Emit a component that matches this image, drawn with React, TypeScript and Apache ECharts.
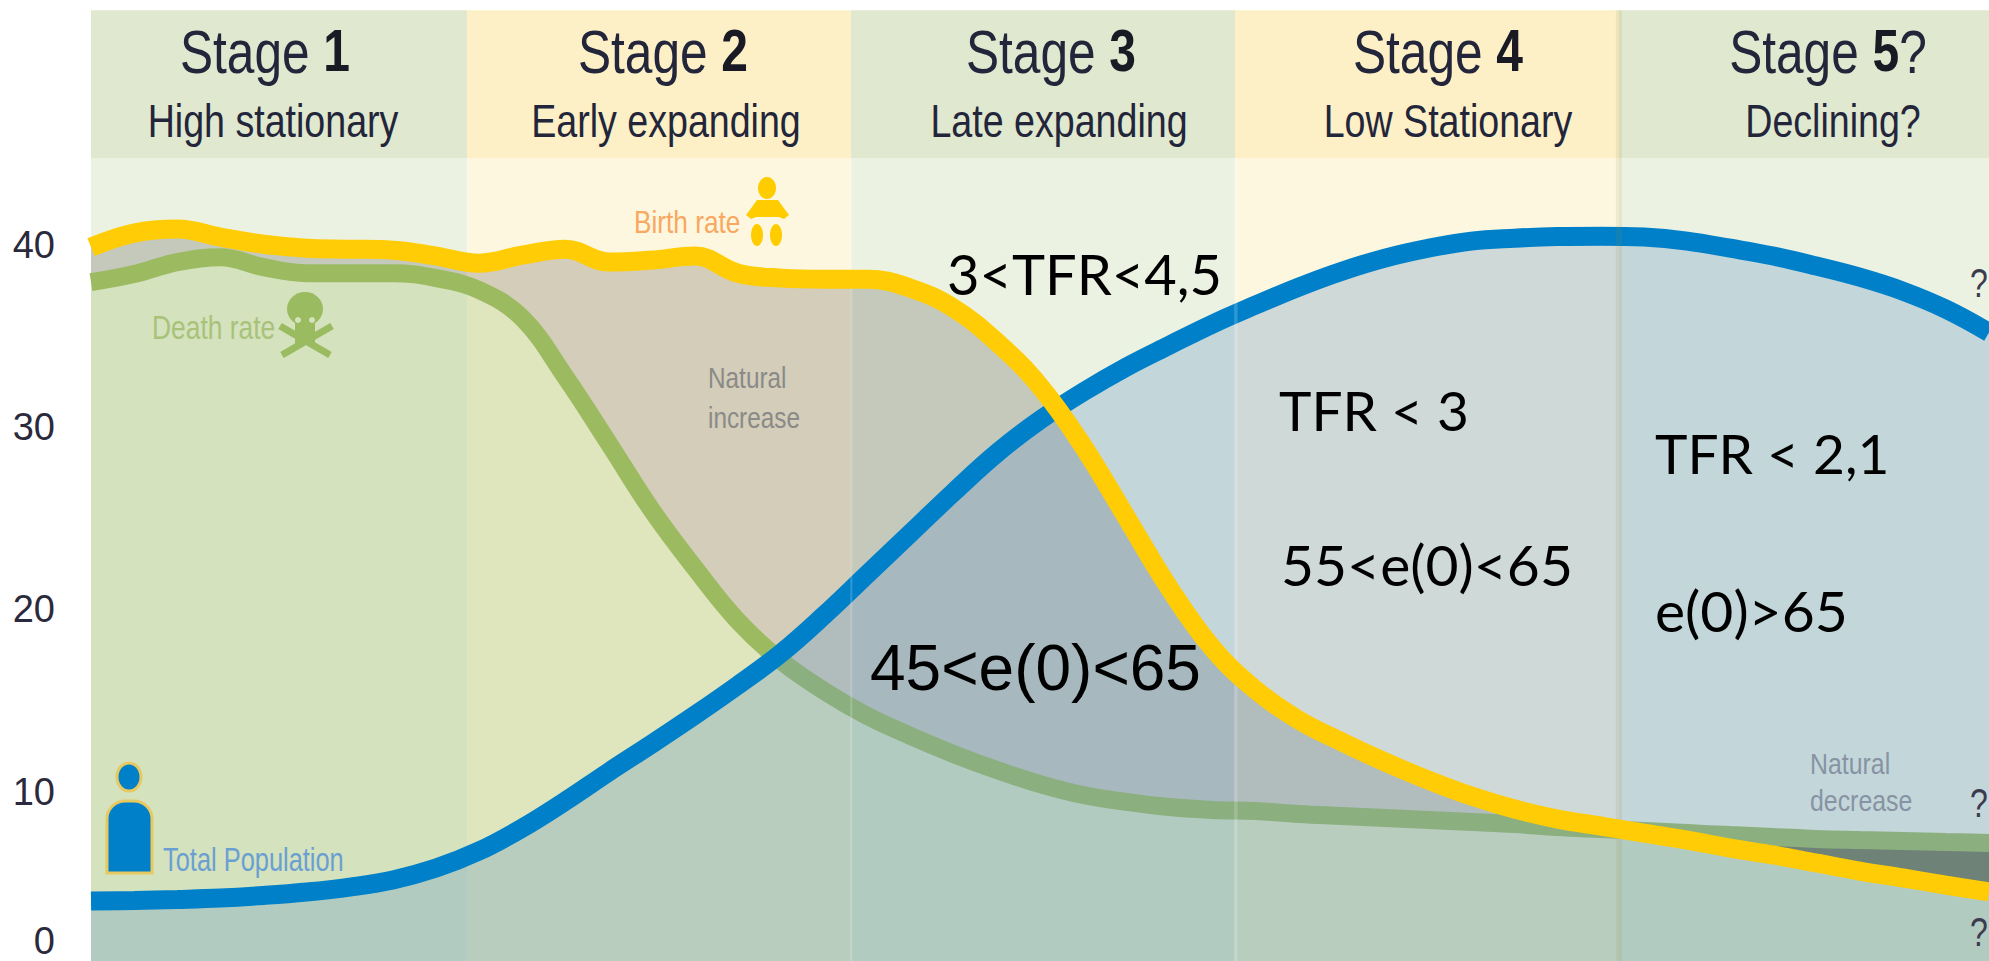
import React, { useEffect, useRef } from "react";
import * as echarts from "echarts";

const timeSteps = Array.from({ length: 45 }, (_, i) => String(i));
const birthRate = [39.88,40.65,40.87,40.43,40.04,39.82,39.77,39.71,39.39,39.0,39.44,39.77,39.06,39.17,39.39,38.45,38.18,38.12,38.12,37.63,36.53,34.67,32.25,28.96,25.07,21.17,17.88,15.58,13.93,12.73,11.63,10.64,9.76,9.05,8.5,8.12,7.73,7.35,6.91,6.53,6.09,5.65,5.27,4.88,4.5];
const deathRate = [37.96,38.4,39.06,39.33,38.78,38.45,38.45,38.45,38.18,37.52,35.98,32.75,29.13,25.45,22.27,19.36,17.17,15.52,14.15,13.06,12.07,11.19,10.42,9.82,9.44,9.16,9.0,8.94,8.78,8.67,8.56,8.45,8.34,8.23,8.06,7.95,7.84,7.73,7.62,7.52,7.41,7.35,7.3,7.24,7.19];
const totalPopulation = [4.0,4.03,4.09,4.17,4.31,4.5,4.77,5.16,5.81,6.75,8.01,9.49,11.08,12.62,14.2,15.85,17.6,19.69,21.94,24.19,26.44,28.58,30.39,31.93,33.3,34.5,35.66,36.7,37.69,38.56,39.28,39.82,40.21,40.37,40.46,40.48,40.43,40.21,39.82,39.39,38.84,38.23,37.47,36.48,35.2];
const stageEdges = [0, 8.72, 17.62, 26.52, 35.42, 44];
const headerBottom = 44.76;
const chartTop = 52.88;
const yTickValues = [1.8, 10, 20, 30, 40];
const yTickLabels = ["0", "10", "20", "30", "40"];
const stageNumbers = ["1", "2", "3", "4", "5"];
const stageSubtitles = ["High stationary", "Early expanding", "Late expanding", "Low Stationary", "Declining?"];

const SANS = '"Liberation Sans", sans-serif';
const GREEN_HEAD = "#e0e8cf", YEL_HEAD = "#fdf0c6", GREEN_BODY = "#ecf2e2", YEL_BODY = "#fef7df";

function buildGraphic() {
  const els: any[] = [];
  const txt = (text: string, x: number, y: number, size: number, fill: string, opts: any = {}) =>
    els.push({
      type: "text", x, y, z: 100, scaleX: opts.scaleX ?? 1, silent: true,
      style: { text, fill, font: `${opts.weight ?? "normal"} ${size}px ${opts.family ?? SANS}`, textAlign: opts.align ?? "left", textVerticalAlign: "middle", opacity: opts.opacity ?? 1, rich: opts.rich },
    });
  const titleCx = [265, 663, 1051, 1438, 1828];
  const subCx = [273, 666, 1059, 1448, 1833];
  stageNumbers.forEach((n, i) => {
    const rich = {
      a: { font: `normal 62px ${SANS}`, fill: "#23263a" },
      b: { font: `bold 60px ${SANS}`, fill: "#1a1a24" },
    };
    const suffix = i === 4 ? "{a|?}" : "";
    txt(`{a|Stage }{b|${n}}${suffix}`, titleCx[i], 51, 62, "#23263a", { align: "center", rich, scaleX: 0.8 });
    txt(stageSubtitles[i], subCx[i], 120, 47, "#23263a", { align: "center", scaleX: 0.8 });
  });
  const LATO = "Lato, sans-serif";
  txt("3<TFR<4,5", 947, 273, 56, "#000", { family: LATO });
  txt("TFR < 3", 1279, 410, 55, "#000", { family: LATO });
  txt("55<e(0)<65", 1281, 564, 57, "#000", { family: LATO });
  txt("TFR < 2,1", 1655, 453, 55, "#000", { family: LATO });
  txt("e(0)>65", 1655, 610, 57, "#000", { family: LATO });
  txt("45<e(0)<65", 870, 668, 64, "#000");
  txt("Birth rate", 634, 222, 32, "#f8a860", { scaleX: 0.82 });
  txt("Death rate", 152, 327, 33, "#a9c27a", { scaleX: 0.8 });
  txt("Natural", 708, 378, 29, "#8a8a88", { scaleX: 0.84 });
  txt("increase", 708, 418, 29, "#8a8a88", { scaleX: 0.84 });
  txt("Total Population", 163, 859, 33, "#6a9fd2", { scaleX: 0.77 });
  txt("Natural", 1810, 764, 30, "#8793a3", { scaleX: 0.83 });
  txt("decrease", 1810, 801, 30, "#8793a3", { scaleX: 0.83 });
  txt("?", 1970, 283, 40, "#3b3b50", { scaleX: 0.8 });
  txt("?", 1970, 803, 40, "#3b3b50", { scaleX: 0.8 });
  txt("?", 1970, 932, 40, "#3b3b50", { scaleX: 0.8 });

  const shp = (o: any) => els.push({ z: 100, silent: true, ...o });
  // baby
  const Y = "#ffcc00";
  shp({ type: "ellipse", shape: { cx: 767, cy: 188, rx: 9, ry: 11 }, style: { fill: Y } });
  shp({ type: "polygon", shape: { points: [[757,200],[778,200],[783,207],[789,215],[784,219],[779,217],[756,217],[751,219],[746,215],[752,207]] }, style: { fill: Y } });
  shp({ type: "ellipse", shape: { cx: 757, cy: 235, rx: 6, ry: 11 }, style: { fill: Y } });
  shp({ type: "ellipse", shape: { cx: 776, cy: 235, rx: 6, ry: 11 }, style: { fill: Y } });
  // skull
  const G = "#9abb60";
  shp({ type: "ellipse", shape: { cx: 305, cy: 309, rx: 18, ry: 17 }, style: { fill: G } });
  shp({ type: "rect", shape: { x: 295, y: 322, width: 20, height: 22 }, style: { fill: G } });
  shp({ type: "line", shape: { x1: 280, y1: 326, x2: 330, y2: 355 }, style: { stroke: G, lineWidth: 7 } });
  shp({ type: "line", shape: { x1: 332, y1: 326, x2: 282, y2: 355 }, style: { stroke: G, lineWidth: 7 } });
  shp({ type: "circle", shape: { cx: 298, cy: 320, r: 3 }, style: { fill: "#d5e2be" } });
  shp({ type: "circle", shape: { cx: 312, cy: 320, r: 3 }, style: { fill: "#d5e2be" } });
  // person
  const B = "#0080c8", O = "#e8c860";
  shp({ type: "ellipse", shape: { cx: 129, cy: 777, rx: 12, ry: 14 }, style: { fill: B, stroke: O, lineWidth: 3 } });
  shp({ type: "rect", shape: { x: 107, y: 801, width: 45, height: 72, r: [18, 18, 0, 0] }, style: { fill: B, stroke: O, lineWidth: 3 } });
  return els;
}

export default function App() {
  const ref = useRef<HTMLDivElement>(null);
  useEffect(() => {
    document.body.style.margin = "0";
    document.body.style.overflow = "hidden";
    const chart = echarts.init(ref.current!, undefined, { renderer: "svg" });
    const lower = birthRate.map((b, i) => Math.min(b, deathRate[i]));
    const increase = birthRate.map((b, i) => Math.max(b - deathRate[i], 0));
    const decrease = birthRate.map((b, i) => Math.max(deathRate[i] - b, 0));

    const bands: any[] = [];
    for (let i = 0; i < 5; i++) {
      const even = i % 2 === 0;
      bands.push([{ xAxis: stageEdges[i], yAxis: 0, itemStyle: { color: even ? GREEN_BODY : YEL_BODY } }, { xAxis: stageEdges[i + 1], yAxis: headerBottom }]);
      bands.push([{ xAxis: stageEdges[i], yAxis: headerBottom, itemStyle: { color: even ? GREEN_HEAD : YEL_HEAD } }, { xAxis: stageEdges[i + 1], yAxis: chartTop }]);
    }
    const strips = [
      [{ xAxis: 17.6, yAxis: 0, itemStyle: { color: "rgba(255,255,255,0.18)" } }, { xAxis: 17.65, yAxis: headerBottom }],
      [{ xAxis: 26.5, yAxis: 0, itemStyle: { color: "rgba(255,255,255,0.18)" } }, { xAxis: 26.58, yAxis: headerBottom }],
      [{ xAxis: 35.35, yAxis: 0, itemStyle: { color: "rgba(150,140,60,0.12)" } }, { xAxis: 35.49, yAxis: chartTop }],
    ];
    const hidden = { symbol: "none", lineStyle: { opacity: 0, width: 0 }, silent: true };
    const smooth = 0.4;

    chart.setOption({
      animation: false,
      tooltip: { show: false },
      grid: { left: 91, right: 0, top: 8, bottom: 0, containLabel: false },
      xAxis: [
        { type: "category", data: timeSteps, boundaryGap: false, show: false },
        { type: "value", min: 0, max: 44, show: false },
      ],
      yAxis: {
        type: "value", min: 0, max: 53,
        axisLine: { show: false }, axisTick: { show: false }, splitLine: { show: false },
        axisLabel: {
          customValues: yTickValues,
          margin: 36, color: "#2a2a3c", fontSize: 38, fontFamily: SANS,
          formatter: (v: number) => yTickLabels[yTickValues.indexOf(v)],
        },
      },
      graphic: { elements: buildGraphic() },
      series: [
        { type: "line", name: "bands", xAxisIndex: 1, data: [[0, 0]], ...hidden, markArea: { silent: true, z: 1, data: bands } },
        { type: "line", name: "base-inc", stack: "inc", data: lower, smooth, z: 2, ...hidden },
        { type: "line", name: "Natural increase", stack: "inc", data: increase, smooth, z: 2, ...hidden,
          areaStyle: { color: "rgba(0,0,0,0.17)", opacity: 1 } },
        { type: "line", name: "base-dec", stack: "dec", data: birthRate, smooth, z: 2, ...hidden },
        { type: "line", name: "Natural decrease", stack: "dec", data: decrease, smooth, z: 2, ...hidden,
          areaStyle: { color: "#4b4535", opacity: 1 } },
        { type: "line", name: "Death rate", data: deathRate, smooth, z: 3, symbol: "none",
          lineStyle: { color: "#9cbb60", width: 18 }, areaStyle: { color: "rgba(178,202,136,0.4)", opacity: 1 } },
        { type: "line", name: "Total Population", data: totalPopulation, smooth, z: 4, symbol: "none",
          lineStyle: { color: "#0080c9", width: 19 }, areaStyle: { color: "rgba(100,148,200,0.3)", opacity: 1 } },
        { type: "line", name: "Birth rate", data: birthRate, smooth, z: 6, symbol: "none",
          lineStyle: { color: "#ffcc05", width: 19 } },
        { type: "line", name: "stage-edges", xAxisIndex: 1, data: [[0, 0]], z: 7, ...hidden, markArea: { silent: true, z: 5, data: strips } },
      ],
    });
    return () => chart.dispose();
  }, []);
  return (
    <div style={{ width: 1989, height: 961, overflow: "hidden" }}>
      <div ref={ref} style={{ width: 1989, height: 974 }} />
    </div>
  );
}
